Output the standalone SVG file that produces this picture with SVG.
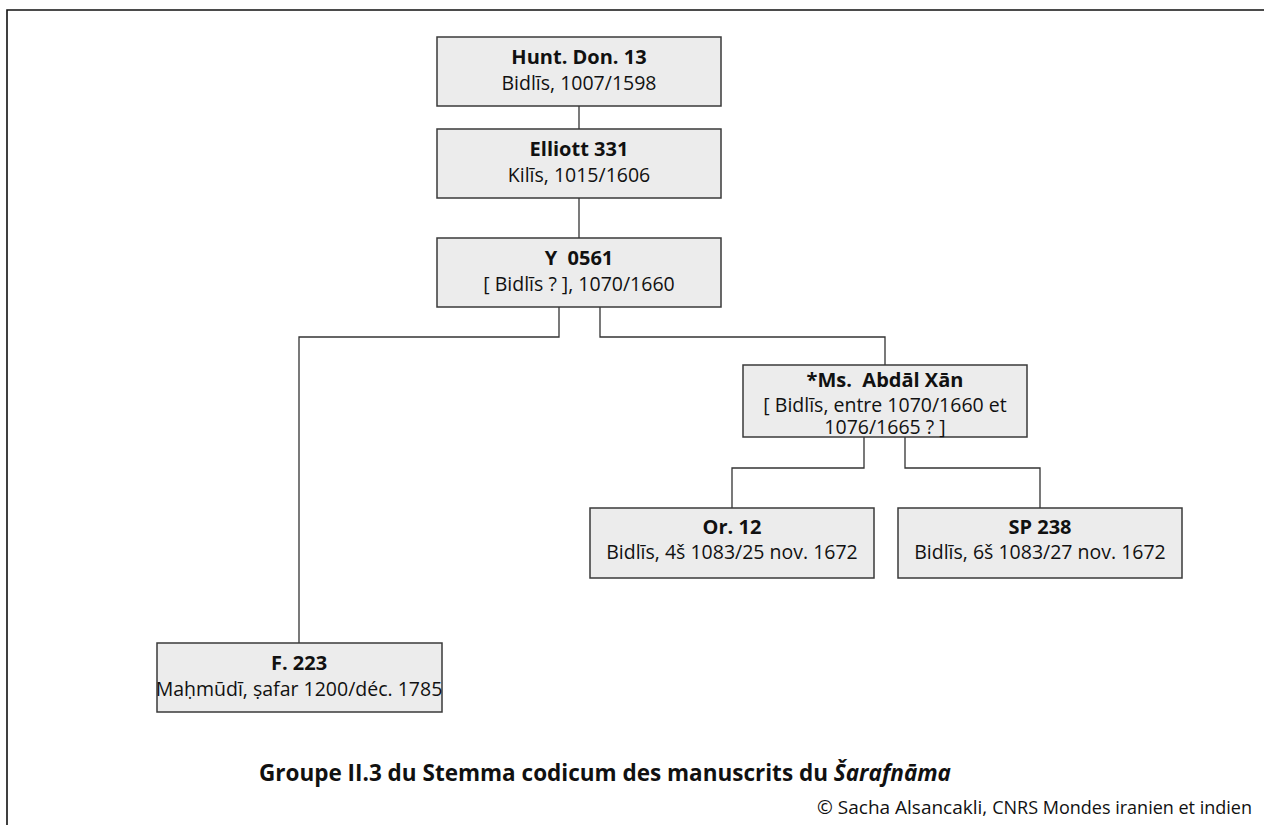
<svg xmlns="http://www.w3.org/2000/svg" width="1264" height="825" viewBox="0 0 1264 825">
<style>
.box{fill:#ececec;stroke:#3a3a3a;stroke-width:1.5}
.t{font-family:"Open Sans","Noto Sans",sans-serif;font-size:19.5px;fill:#111;text-anchor:middle}
.b{font-weight:bold;font-size:20px}
.con{fill:none;stroke:#333;stroke-width:1.3}
.frame{fill:none;stroke:#111;stroke-width:1.6}
</style>
<rect width="1264" height="825" fill="#fff"/>
<path class="frame" d="M7,825 V10 H1264"/>
<g id="connectors">
<path class="con" d="M579,106 V129"/>
<path class="con" d="M579,198 V238"/>
<path class="con" d="M559,307 V337 H299 V643"/>
<path class="con" d="M600,307 V337 H885 V365"/>
<path class="con" d="M864,437 V468 H732 V508"/>
<path class="con" d="M905,437 V468 H1040 V508"/>
</g>
<g id="hunt">
<rect class="box" x="437" y="37" width="284" height="69"/>
<text class="t b" x="579" y="64">Hunt. Don. 13</text>
<text class="t" x="579" y="90">Bidlīs, 1007/1598</text>
</g>
<g id="elliott">
<rect class="box" x="437" y="129" width="284" height="69"/>
<text class="t b" x="579" y="156">Elliott 331</text>
<text class="t" x="579" y="182">Kilīs, 1015/1606</text>
</g>
<g id="y0561">
<rect class="box" x="437" y="238" width="284" height="69"/>
<text class="t b" x="579" y="265" xml:space="preserve">Y  0561</text>
<text class="t" x="579" y="291">[ Bidlīs ? ], 1070/1660</text>
</g>
<g id="abdal">
<rect class="box" x="743" y="365" width="284" height="72"/>
<text class="t b" x="885" y="387" xml:space="preserve">*Ms.  Abdāl Xān</text>
<text class="t" x="885" y="412">[ Bidlīs, entre 1070/1660 et</text>
<text class="t" x="885" y="434">1076/1665 ? ]</text>
</g>
<g id="or12">
<rect class="box" x="590" y="508" width="284" height="70"/>
<text class="t b" x="732" y="534">Or. 12</text>
<text class="t" x="732" y="559">Bidlīs, 4š 1083/25 nov. 1672</text>
</g>
<g id="sp238">
<rect class="box" x="898" y="508" width="284" height="70"/>
<text class="t b" x="1040" y="534">SP 238</text>
<text class="t" x="1040" y="559">Bidlīs, 6š 1083/27 nov. 1672</text>
</g>
<g id="f223">
<rect class="box" x="157" y="643" width="285" height="69"/>
<text class="t b" x="299" y="670">F. 223</text>
<text class="t" x="299" y="696">Maḥmūdī, ṣafar 1200/déc. 1785</text>
</g>
<text x="605" y="781" font-family="Open Sans, Noto Sans, sans-serif" font-size="22.5" font-weight="bold" fill="#111" text-anchor="middle">Groupe II.3 du Stemma codicum des manuscrits du <tspan font-style="italic">Šarafnāma</tspan></text>
<text x="1252" y="814" font-family="Open Sans, Noto Sans, sans-serif" font-size="19" fill="#111" text-anchor="end">© Sacha Alsancakli, <tspan font-size="18">CNRS Mondes iranien et indien</tspan></text>
</svg>
